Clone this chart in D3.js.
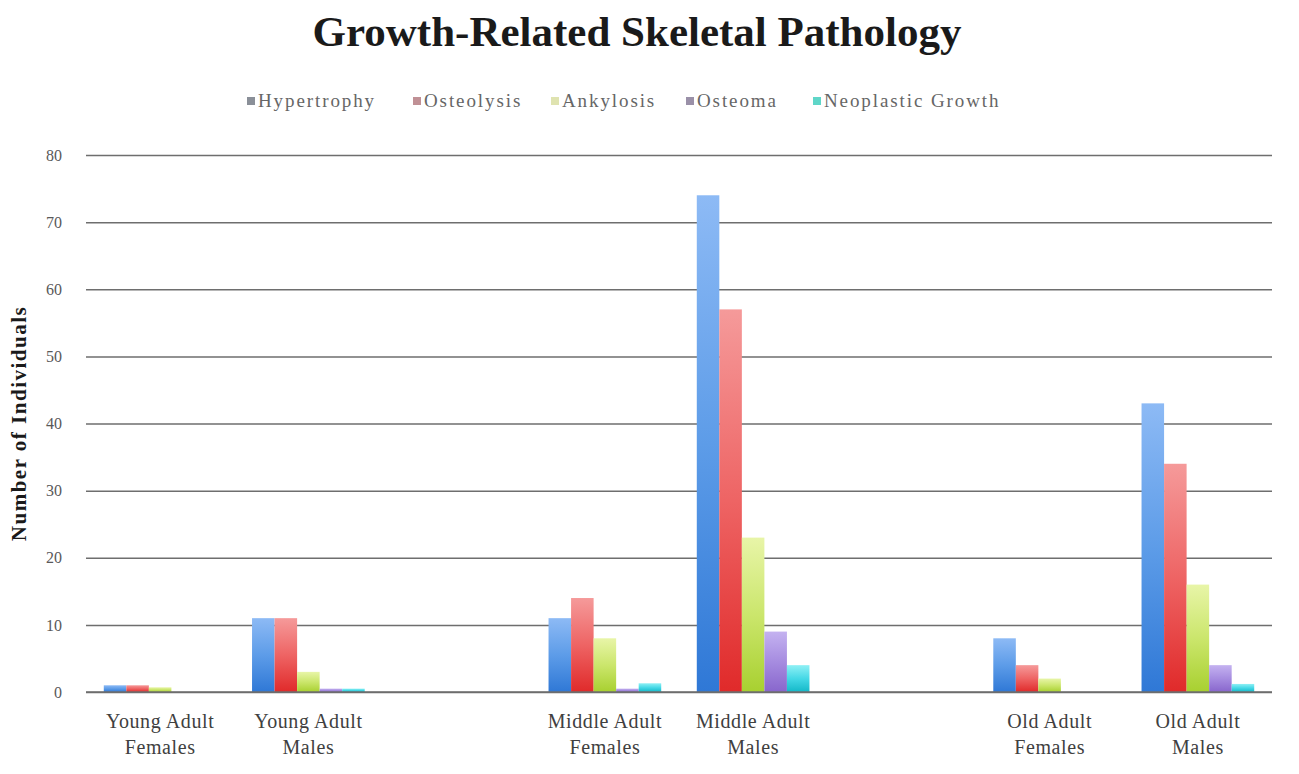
<!DOCTYPE html>
<html><head><meta charset="utf-8">
<script src="https://cdn.jsdelivr.net/npm/d3@7"></script>
<style>body{margin:0;background:#fff;} svg{display:block;}</style>
</head><body>
<svg id="chart" width="1299" height="774"></svg>
<script>
const categories = ["Young Adult|Females","Young Adult|Males","gap1","Middle Adult|Females","Middle Adult|Males","gap2","Old Adult|Females","Old Adult|Males"];
const seriesNames = ["Hypertrophy","Osteolysis","Ankylosis","Osteoma","Neoplastic Growth"];
const hypertrophy = [1, 11, null, 11, 74, null, 8, 43];
const osteolysis  = [1, 11, null, 14, 57, null, 4, 34];
const ankylosis   = [0.7, 3, null, 8, 23, null, 2, 16];
const osteoma     = [0, 0.5, null, 0.5, 9, null, 0, 4];
const neoplastic  = [0, 0.5, null, 1.3, 4, null, 0, 1.2];
const yTicks = [0,10,20,30,40,50,60,70,80];
const seriesValues = [hypertrophy, osteolysis, ankylosis, osteoma, neoplastic];
const colors = [
  {top:"#8dbaf5", mid:"#5d9ce8", bot:"#2f78d6", legend:"#8a8f98"},
  {top:"#f59a9a", mid:"#ee6464", bot:"#e02a2a", legend:"#c09095"},
  {top:"#e8f5a8", mid:"#cbe66c", bot:"#a8d030", legend:"#dfe3b0"},
  {top:"#c4b2f0", mid:"#a68ce0", bot:"#8866cc", legend:"#9a90a8"},
  {top:"#8ff0f5", mid:"#45d8e6", bot:"#14b8c8", legend:"#5fd6c8"}
];
const FONT = "'Liberation Serif', 'DejaVu Serif', serif";

const svg = d3.select("#chart");
const margin = {left:86, right:1272, top:155, bottom:692};

const x0 = d3.scaleBand().domain(categories).range([margin.left, margin.right]).paddingInner(0.24).paddingOuter(0.12);
const x1 = d3.scaleBand().domain(seriesNames).range([0, x0.bandwidth()]);
const y = d3.scaleLinear().domain([0,80]).range([margin.bottom, margin.top]);

const defs = svg.append("defs");
colors.forEach((c,i)=>{
  const g = defs.append("linearGradient").attr("id","g"+i).attr("x1","0").attr("y1","0").attr("x2","0").attr("y2","1");
  g.append("stop").attr("offset","0%").attr("stop-color",c.top);
  g.append("stop").attr("offset","50%").attr("stop-color",c.mid);
  g.append("stop").attr("offset","100%").attr("stop-color",c.bot);
});

// title
svg.append("text").attr("x",637).attr("y",46).attr("text-anchor","middle")
  .attr("font-family",FONT).attr("font-weight","bold").attr("font-size",43)
  .attr("fill","#1a1a1a").text("Growth-Related Skeletal Pathology");

// gridlines via axis
const yAxis = d3.axisLeft(y).tickValues(yTicks).tickSize(-(margin.right-margin.left)).tickPadding(24);
const gy = svg.append("g").attr("transform",`translate(${margin.left},0)`).call(yAxis);
gy.select(".domain").remove();
gy.selectAll(".tick line").attr("stroke","#6e6e6e").attr("stroke-width",1.5);
gy.selectAll(".tick text").attr("font-family",FONT).attr("font-size",16).attr("fill","#595959");

// bars
const groups = svg.append("g").selectAll("g").data(categories).join("g")
  .attr("transform",d=>`translate(${x0(d)},0)`);
seriesNames.forEach((s,si)=>{
  groups.filter((d,i)=>seriesValues[si][i]!=null && seriesValues[si][i]>0)
    .append("rect")
    .attr("x",x1(s)).attr("width",x1.bandwidth())
    .attr("y",(d)=>y(seriesValues[si][categories.indexOf(d)]))
    .attr("height",(d)=>y(0)-y(seriesValues[si][categories.indexOf(d)]))
    .attr("fill",`url(#g${si})`);
});

// redraw zero line on top
svg.append("line").attr("x1",margin.left).attr("x2",margin.right).attr("y1",y(0)).attr("y2",y(0))
  .attr("stroke","#6e6e6e").attr("stroke-width",1.5);

// x labels
const xl = svg.append("g");
categories.forEach(c=>{
  if(c.startsWith("gap")) return;
  const parts = c.split("|");
  const cx = x0(c)+x0.bandwidth()/2;
  const t = xl.append("text").attr("x",cx).attr("text-anchor","middle")
    .attr("font-family",FONT).attr("font-size",20).attr("letter-spacing",0.6).attr("fill","#404040");
  t.append("tspan").attr("x",cx).attr("y",728).text(parts[0]);
  t.append("tspan").attr("x",cx).attr("y",754).text(parts[1]);
});

// y title
svg.append("text").attr("transform",`translate(26,${(margin.top+margin.bottom)/2}) rotate(-90)`)
  .attr("text-anchor","middle").attr("font-family",FONT).attr("font-weight","bold")
  .attr("font-size",21).attr("letter-spacing",1.5).attr("fill","#1a1a1a").text("Number of Individuals");

// legend
const legendX = [247, 413, 551, 686, 813];
const lg = svg.append("g");
seriesNames.forEach((s,i)=>{
  lg.append("rect").attr("x",legendX[i]).attr("y",97).attr("width",8).attr("height",8).attr("fill",colors[i].legend);
  lg.append("text").attr("x",legendX[i]+11).attr("y",107).attr("font-family",FONT)
    .attr("font-size",19).attr("letter-spacing",1.9).attr("fill","#666666").text(s);
});
</script>
</body></html>
